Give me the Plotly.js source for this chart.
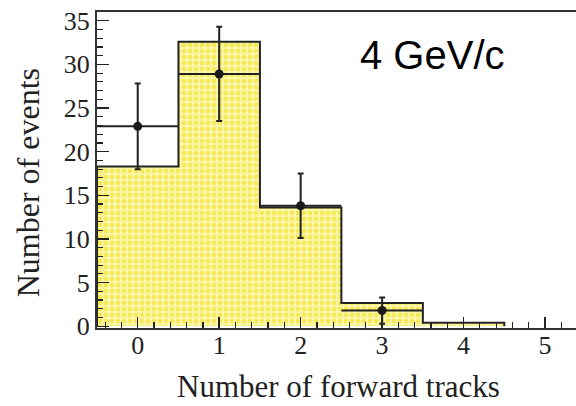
<!DOCTYPE html>
<html>
<head>
<meta charset="utf-8">
<script src="https://cdn.plot.ly/plotly-3.0.1.min.js"></script>
<style>
  html, body { margin: 0; padding: 0; background: #fff; }
  #chart { width: 576px; height: 406px; }
</style>
</head>
<body>
<div id="chart"></div>
<script>
// Forward-track multiplicity: simulated histogram vs. measured events
const trackBins   = [0, 1, 2, 3, 4, 5];
const simCounts   = [18.3, 32.6, 13.6, 2.65, 0.4, 0];
const dataTracks  = [0, 1, 2, 3];
const dataCounts  = [22.9, 28.9, 13.8, 1.8];
const dataErrors  = [4.9, 5.4, 3.7, 1.5];
const xTickVals   = [0, 1, 2, 3, 4, 5];
const yTickVals   = [0, 5, 10, 15, 20, 25, 30, 35];
const momentumLabel = "4 GeV/c";

const ink = "#222";
const serif = "Liberation Serif, Times New Roman, serif";
const binHalf = 0.5;

// Step outline of the histogram, up to the last non-empty bin
let lastFilled = simCounts.length - 1;
while (lastFilled > 0 && simCounts[lastFilled] === 0) lastFilled--;
const stepX = [trackBins[0] - binHalf];
const stepY = [0];
for (let i = 0; i <= lastFilled; i++) {
  stepX.push(trackBins[i] - binHalf, trackBins[i] + binHalf);
  stepY.push(simCounts[i], simCounts[i]);
}
stepX.push(trackBins[lastFilled] + binHalf);
stepY.push(0);

const histogram = {
  type: "bar",
  x: trackBins,
  y: simCounts,
  width: 2 * binHalf,
  marker: {
    color: "#fbf5a8",
    line: { width: 0 },
    pattern: { shape: ".", fgcolor: "#eedd00", size: 6, solidity: 0.45, fillmode: "overlay" }
  },
  hoverinfo: "skip",
  showlegend: false
};

const outline = {
  type: "scatter",
  mode: "lines",
  x: stepX,
  y: stepY,
  line: { color: ink, width: 2 },
  hoverinfo: "skip",
  showlegend: false
};

const measured = {
  type: "scatter",
  mode: "markers",
  x: dataTracks,
  y: dataCounts,
  marker: { color: "#1a1a1a", size: 9 },
  error_y: { type: "data", array: dataErrors, visible: true, color: ink, thickness: 2, width: 3 },
  error_x: { type: "constant", value: binHalf, visible: true, color: ink, thickness: 2, width: 0 },
  hoverinfo: "skip",
  showlegend: false
};

const layout = {
  width: 576,
  height: 406,
  margin: { l: 97, r: 0, t: 12, b: 78 },
  paper_bgcolor: "#fff",
  plot_bgcolor: "#fff",
  bargap: 0,
  xaxis: {
    range: [-0.5, 5.38],
    tickmode: "array",
    tickvals: xTickVals,
    ticktext: xTickVals.map(String),
    ticks: "inside",
    ticklen: 11,
    tickwidth: 1.5,
    tickcolor: ink,
    minor: { dtick: 0.2, ticks: "inside", ticklen: 6, tickwidth: 1.2, tickcolor: ink },
    showline: true,
    linecolor: "#333",
    linewidth: 2,
    mirror: true,
    showgrid: false,
    zeroline: false,
    ticklabelstandoff: -7,
    tickfont: { family: serif, size: 26, color: ink }
  },
  yaxis: {
    range: [-0.2, 36],
    tickmode: "array",
    tickvals: yTickVals,
    ticktext: yTickVals.map(String),
    ticks: "inside",
    ticklen: 12,
    tickwidth: 1.5,
    tickcolor: ink,
    minor: { dtick: 1, ticks: "inside", ticklen: 6, tickwidth: 1.2, tickcolor: ink },
    showline: true,
    linecolor: "#333",
    linewidth: 2,
    showgrid: false,
    zeroline: false,
    ticklabelstandoff: 0,
    tickfont: { family: serif, size: 26, color: ink }
  },
  annotations: [
    {
      text: "Number of events",
      xref: "paper", yref: "paper",
      x: -0.144, y: 0.458,
      xanchor: "center", yanchor: "middle",
      textangle: -90,
      showarrow: false,
      font: { family: serif, size: 32, color: ink }
    },
    {
      text: "Number of forward tracks",
      xref: "paper", yref: "paper",
      x: 0.505, y: -0.185,
      xanchor: "center", yanchor: "middle",
      showarrow: false,
      font: { family: serif, size: 31, color: ink }
    },
    {
      text: momentumLabel,
      xref: "paper", yref: "paper",
      x: 0.700, y: 0.8625,
      xanchor: "center", yanchor: "middle",
      showarrow: false,
      font: { family: "Liberation Sans, Arial, sans-serif", size: 40, color: "#000" }
    }
  ]
};

Plotly.newPlot("chart", [histogram, outline, measured], layout, { staticPlot: true, displayModeBar: false });
</script>
</body>
</html>
